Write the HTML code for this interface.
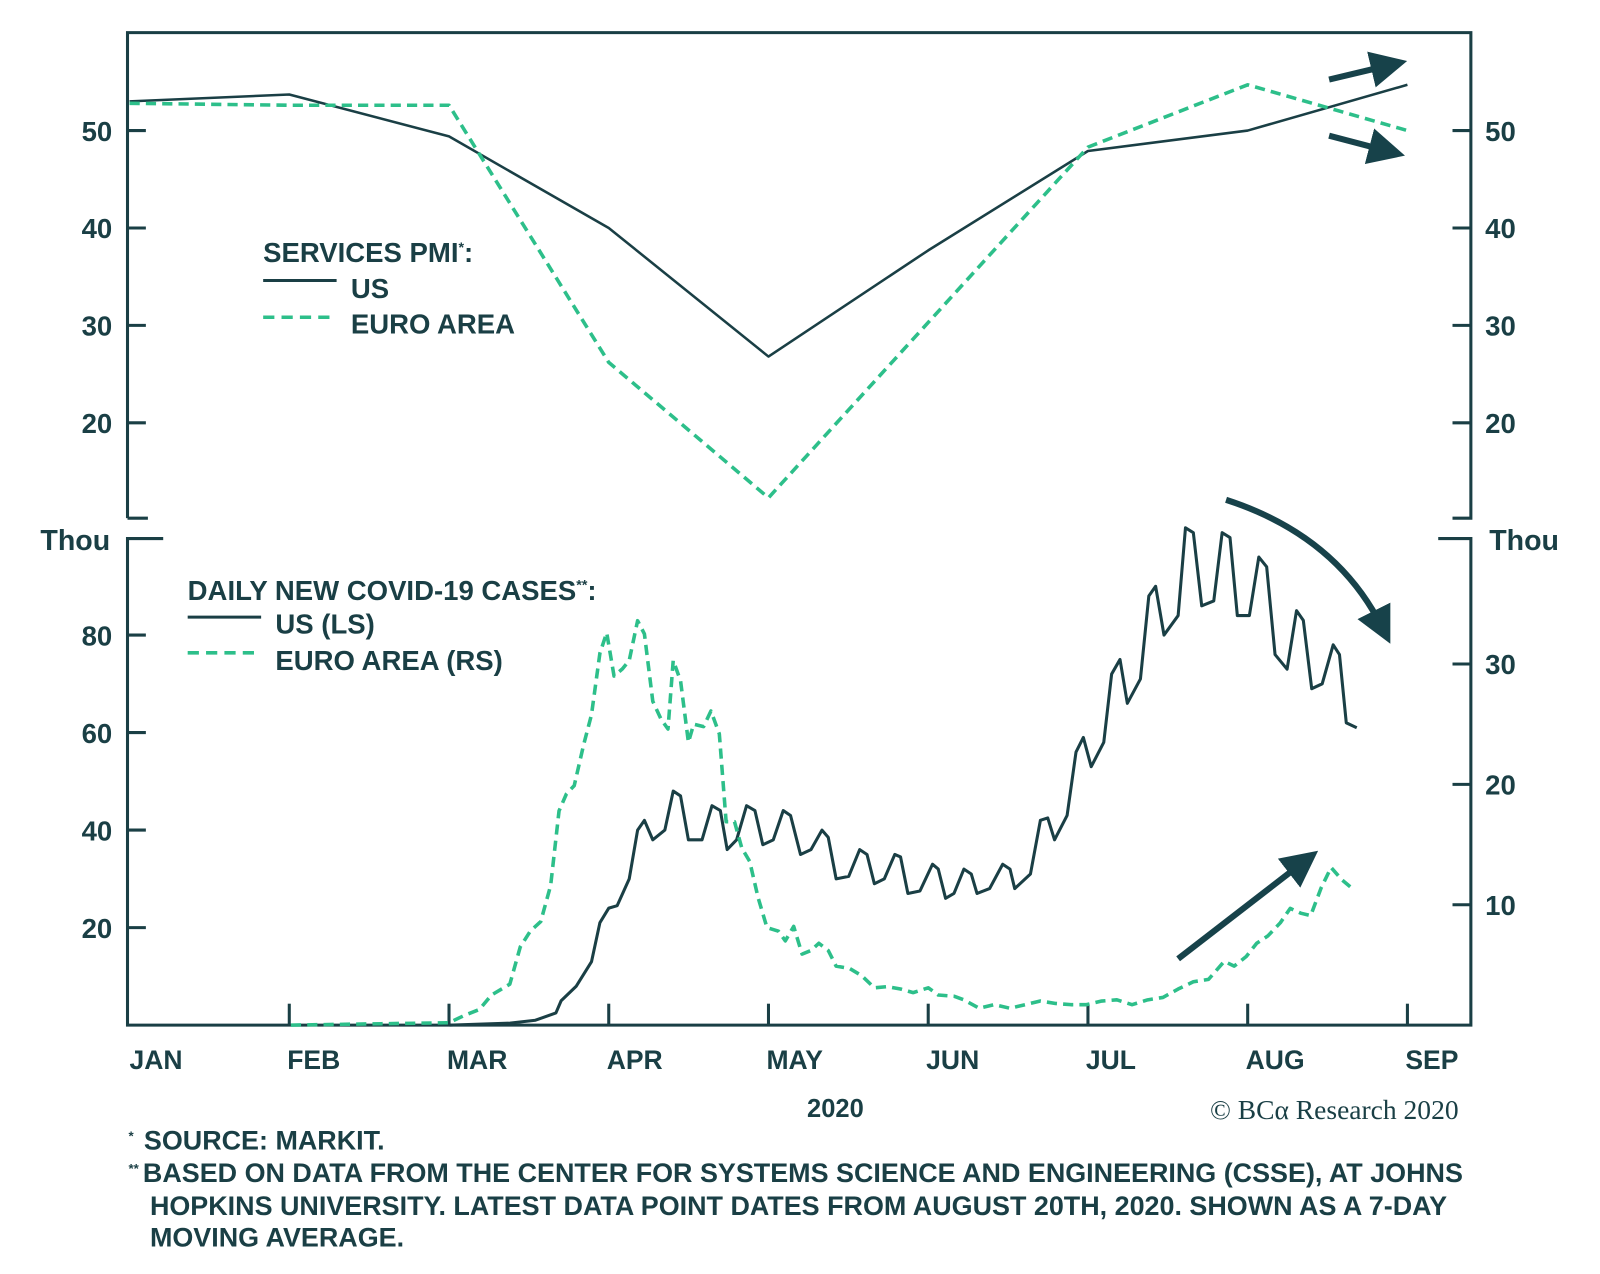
<!DOCTYPE html>
<html><head><meta charset="utf-8"><style>
html,body{margin:0;padding:0;background:#fff}
svg{display:block}
text{font-family:"Liberation Sans",sans-serif;font-weight:bold;fill:#1a3f45}
</style></head><body>
<svg id="chart" width="1600" height="1274" viewBox="0 0 1568.6 1249" xmlns="http://www.w3.org/2000/svg">
<defs>
<marker id="ah" markerWidth="6" markerHeight="6" refX="3" refY="3" orient="auto" markerUnits="strokeWidth"><path d="M0,0 L6,3 L0,6 Z" fill="#17424a"/></marker>
</defs>
<g id="frame" stroke="#1a3f45" stroke-width="3" fill="none">
<path d="M125,508 L125,32 L1442,32 L1442,508 L1424,508"/>
<path d="M125,508 L145,508"/>
<path d="M160,528 L125,528 L125,1005 L1442,1005 L1442,528 L1410,528"/>
</g>
<g id="ticks" stroke="#1a3f45" stroke-width="3"></g>
<g id="labels"></g>
<g id="series" fill="none"></g>
<g>
<text x="258" y="257" font-size="27">SERVICES PMI<tspan font-size="14" dy="-10">*</tspan><tspan dy="10">:</tspan></text>
<line x1="258" y1="275" x2="330" y2="275" stroke="#1a3f45" stroke-width="3"/>
<text x="344" y="292" font-size="27">US</text>
<line x1="258" y1="311" x2="330" y2="311" stroke="#2dbf8a" stroke-width="3.5" stroke-dasharray="11,7"/>
<text x="344" y="327" font-size="27">EURO AREA</text>
</g>
<g>
<text x="184" y="588" font-size="27">DAILY NEW COVID-19 CASES<tspan font-size="14" dy="-10">**</tspan><tspan dy="10">:</tspan></text>
<line x1="184" y1="605" x2="256" y2="605" stroke="#1a3f45" stroke-width="3"/>
<text x="270" y="621" font-size="27">US (LS)</text>
<line x1="184" y1="640" x2="256" y2="640" stroke="#2dbf8a" stroke-width="3.5" stroke-dasharray="11,7"/>
<text x="270" y="657" font-size="27">EURO AREA (RS)</text>
</g>
<g stroke="#17424a" stroke-width="6" fill="none">
<line x1="1303" y1="78" x2="1362" y2="64" marker-end="url(#ah)"/>
<line x1="1303" y1="133" x2="1360" y2="148" marker-end="url(#ah)"/>
<path d="M1202,490 Q1310,525 1355,615" marker-end="url(#ah)"/>
<line x1="1155" y1="940" x2="1278" y2="845" marker-end="url(#ah)"/>
</g>
<text x="819" y="1095" font-size="25" text-anchor="middle">2020</text>
<text x="1430" y="1097" font-size="27" text-anchor="end" style="font-family:'Liberation Serif',serif;font-weight:normal">© BCα Research 2020</text>
<g font-size="26.4">
<text x="126" y="1127"><tspan font-size="13" dy="-9">*</tspan><tspan dy="9" dx="10">SOURCE: MARKIT.</tspan></text>
<text x="126" y="1159"><tspan font-size="13" dy="-9">**</tspan><tspan dy="9" dx="4">BASED ON DATA FROM THE CENTER FOR SYSTEMS SCIENCE AND ENGINEERING (CSSE), AT JOHNS</tspan></text>
<text x="147" y="1191">HOPKINS UNIVERSITY. LATEST DATA POINT DATES FROM AUGUST 20TH, 2020. SHOWN AS A 7-DAY</text>
<text x="147" y="1222">MOVING AVERAGE.</text>
</g>
</svg>
<script>
const months = ["JAN","FEB","MAR","APR","MAY","JUN","JUL","AUG","SEP"];
const pmiUS = [53.0,53.7,49.4,40.0,26.8,37.7,47.9,50.0,54.7];
const pmiEuro = [52.8,52.6,52.6,26.2,12.3,30.3,48.3,54.7,50.0];
const pmiTicks = [20,30,40,50];
const casesLTicks = [20,40,60,80];
const casesRTicks = [10,20,30];
const usDays = [61.1,72.6,77.5,81.4,82.4,85.3,88.2,89.8,91.5,93.1,95.4,97,98.3,99.9,102.2,103.8,105.2,106.7,109.3,111.2,112.8,114.1,115.9,117.8,119.4,120.9,122.9,124.8,126.2,128.1,130.1,132.2,133.4,134.9,137.3,139.4,140.8,142.2,144.1,146.1,147.2,148.6,150.9,153.3,154.4,155.8,157.4,159.3,160.7,161.8,164.2,166.7,168.1,169,172,173.9,175.3,176.6,179,180.7,182.1,183.6,186,187.5,189.1,190.5,193,194.6,195.9,197.5,200.2,201.6,203.1,204.7,207,208.6,210.1,211.5,213.8,215.6,217.1,218.7,221,222.8,224.1,225.7,227.7,229.8,231,232.3,234.3];
const usCases = [0,0.4,1,2.5,5,8,13,21,24,24.5,30,40,42,38,40,48,47,38,38,45,44,36,38,45,44,37,38,44,43,35,36,40,38.5,30,30.5,36,35,29,30,35,34.5,27,27.5,33,32,26,27,32,31,27,28,33,32,28,31,42,42.5,38,43,56,59,53,58,72,75,66,71,88,90,80,84,102,101,86,87,101,100,84,84,96,94,76,73,85,83,69,70,78,76,62,61];
const euDays = [30.8,61,63.9,66.8,69.1,72.6,74.6,76.5,78.5,80.4,82,83.4,84.9,86.7,88.2,89.8,91.1,92.5,94.1,95.4,97,98.3,99.9,101.5,102.8,103.8,105.2,106.7,107.7,109.6,111,112.6,113.9,115.5,116.9,118.4,120,121.7,123.9,125.2,126.8,128.4,130.1,131.6,133.4,134.9,137.5,139.8,142.2,144.7,147.2,149.6,152.5,154.4,157.4,159.3,162.2,165.1,168.1,171,173.9,176.8,179.7,182.7,185.6,188.5,191.4,194.4,197.3,200.2,203.1,206,209,210.9,213.2,215.2,217.3,219.7,221.6,223.6,225.5,227.5,229.4,231.4,233.3];
const euCases = [0,0.2,0.8,1.3,2.5,3.4,6.5,7.8,8.6,11.6,17.8,19.2,19.9,23.3,25.8,30.9,32.6,29,29.6,30.3,33.6,32.5,26.9,25.4,24.6,30.3,28.6,23.5,25,24.8,26.1,24.2,16.9,16.9,14.7,13.6,10.6,8.1,7.8,7,8.2,5.9,6.2,6.8,6.2,4.9,4.7,4.1,3.1,3.2,3,2.7,3.1,2.5,2.4,2.1,1.4,1.7,1.4,1.7,2,1.8,1.7,1.7,2,2.1,1.7,2.1,2.3,3,3.6,3.8,5.3,4.9,5.7,6.8,7.4,8.5,9.7,9.3,9.1,11.4,13.1,12.1,11.4];

const NS="http://www.w3.org/2000/svg";
const X0=127, DAYW=5.135, MONW=156.6;
const xMonth=i=>X0+i*MONW;
const xDay=d=>X0+d*DAYW;
const yPMI=v=>128-(v-50)*9.55;
const yL=v=>1005-v*4.78;
const yR=v=>1005-v*11.8;
function mk(tag,attrs,parent){const e=document.createElementNS(NS,tag);for(const k in attrs)e.setAttribute(k,attrs[k]);parent.appendChild(e);return e;}
const ticks=document.getElementById('ticks'), labels=document.getElementById('labels'), series=document.getElementById('series');

months.forEach((m,i)=>{
  const x=xMonth(i);
  if(i>0){const t=mk('line',{x1:x,y1:1005,x2:x,y2:984},ticks);
  
  }
  const tx=mk('text',{x:x+(i===0?0:-2),y:1048,'font-size':26},labels);
  tx.textContent=m;
  
  
});
pmiTicks.forEach(v=>{
  const y=yPMI(v);
  const a=mk('line',{x1:125,y1:y,x2:143,y2:y},ticks);
  
  
  const b=mk('line',{x1:1424,y1:y,x2:1442,y2:y},ticks);
  
  
  const l=mk('text',{x:110,y:y+10,'font-size':27,'text-anchor':'end'},labels);
  l.textContent=v;
  
  
  const r=mk('text',{x:1456,y:y+10,'font-size':27},labels);
  r.textContent=v;
  
  
});
casesLTicks.forEach(v=>{
  const y=yL(v);
  const a=mk('line',{x1:125,y1:y,x2:143,y2:y},ticks);
  
  
  const l=mk('text',{x:110,y:y+10,'font-size':27,'text-anchor':'end'},labels);
  l.textContent=v;
  
  
});
casesRTicks.forEach(v=>{
  const y=yR(v);
  const a=mk('line',{x1:1424,y1:y,x2:1442,y2:y},ticks);
  
  
  const r=mk('text',{x:1456,y:y+10,'font-size':27},labels);
  r.textContent=v;
  
  
});
const tl=mk('text',{x:108,y:539,'font-size':28,'text-anchor':'end'},labels);
tl.textContent='Thou';


const tr=mk('text',{x:1460,y:539,'font-size':28},labels);
tr.textContent='Thou';



function poly(xs,ys,color,dash,w){
  const p=mk('polyline',{points:xs.map((x,i)=>x+','+ys[i]).join(' '),stroke:color,'stroke-width':w,fill:'none','stroke-linejoin':'round'},series);
  if(dash)p.setAttribute('stroke-dasharray',dash);
  return p;
}
let p;
p=poly(pmiUS.map((v,i)=>xMonth(i)),pmiUS.map(yPMI),'#1a3f45',null,2.5);


p=poly(pmiEuro.map((v,i)=>xMonth(i)),pmiEuro.map(yPMI),'#2dbf8a','10,6',3.5);


p=poly(usDays.map(xDay),usCases.map(yL),'#1a3f45',null,3);


p=poly(euDays.map(xDay),euCases.map(yR),'#2dbf8a','10,6',3.5);


</script>
</body></html>
